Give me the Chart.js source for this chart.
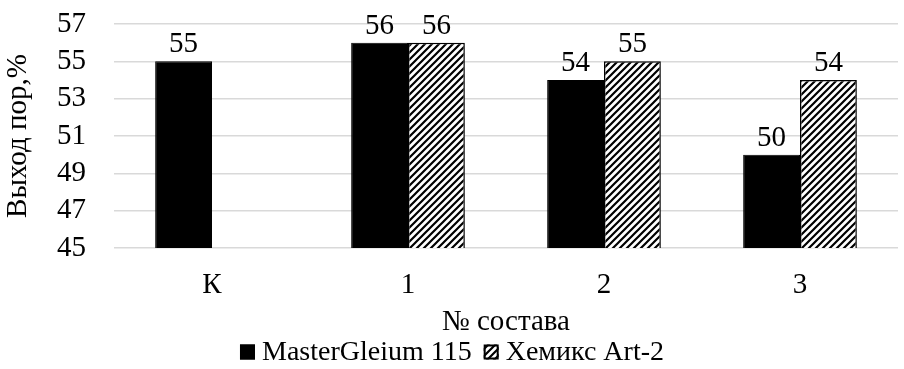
<!DOCTYPE html>
<html>
<head>
<meta charset="utf-8">
<script src="https://cdn.jsdelivr.net/npm/chart.js@4"></script>
<style>
  html, body { margin: 0; padding: 0; background: #fff; }
  #wrap { width: 904px; height: 369px; }
</style>
</head>
<body>
<div id="wrap"><canvas id="chart" width="904" height="369"></canvas></div>
<script>
// data
const categories = ['К', '1', '2', '3'];
const masterValues = [55, 56, 54, 50];
const hemiksValues = [null, 56, 55, 54];
const seriesNames = ['MasterGleium 115', 'Хемикс Art-2'];

const FONT = "'Liberation Serif', 'Times New Roman', serif";
Chart.defaults.font.family = FONT;
Chart.defaults.color = '#000';

// diagonal hatch for the second series
function makeHatch() {
    const c = document.createElement('canvas');
    c.width = 7;
    c.height = 7;
    const g = c.getContext('2d');
    g.fillStyle = '#fff';
    g.fillRect(0, 0, 7, 7);
    g.strokeStyle = '#000';
    g.lineWidth = 2.2;
    g.beginPath();
    g.moveTo(-1, 8); g.lineTo(8, -1);
    g.moveTo(-8, 8); g.lineTo(1, -1);
    g.moveTo(6, 8); g.lineTo(15, -1);
    g.stroke();
    return g.createPattern(c, 'repeat');
}

// value labels above the bars
const valueLabels = {
    id: 'valueLabels',
    afterDatasetsDraw(chart) {
        const ctx = chart.ctx;
        ctx.save();
        ctx.font = '29px ' + FONT;
        ctx.fillStyle = '#000';
        ctx.textAlign = 'center';
        ctx.textBaseline = 'bottom';
        chart.data.datasets.forEach((ds, i) => {
            chart.getDatasetMeta(i).data.forEach((bar, j) => {
                if (ds.data[j] == null) return;
                ctx.fillText(ds.data[j], bar.x, bar.y - 2);
            });
        });
        ctx.restore();
    }
};

// legend drawn by hand so the serif font and tight gaps match
const bottomLegend = {
    id: 'bottomLegend',
    afterDraw(chart) {
        const ctx = chart.ctx;
        const box = 15, gapText = 7, gapItem = 12;
        const cy = 352;
        ctx.save();
        ctx.font = '28px ' + FONT;
        ctx.textBaseline = 'middle';
        ctx.textAlign = 'left';
        const items = chart.data.datasets.map(ds => ({ ds, w: ctx.measureText(ds.label).width }));
        let total = 0;
        items.forEach((it, i) => { total += box + gapText + it.w + (i ? gapItem : 0); });
        let x = 452 - total / 2;
        items.forEach((it, i) => {
            if (i) x += gapItem;
            ctx.fillStyle = it.ds.backgroundColor;
            ctx.fillRect(x, cy - box / 2, box, box);
            ctx.strokeStyle = '#000';
            ctx.lineWidth = 2;
            ctx.strokeRect(x + 1, cy - box / 2 + 1, box - 2, box - 2);
            x += box + gapText;
            ctx.fillStyle = '#000';
            ctx.fillText(it.ds.label, x, cy + 1);
            x += it.w;
        });
        ctx.restore();
    }
};

const ctx = document.getElementById('chart').getContext('2d');
new Chart(ctx, {
    type: 'bar',
    data: {
        labels: categories,
        datasets: [{
            label: seriesNames[0],
            data: masterValues,
            backgroundColor: '#000',
            borderColor: '#000',
            borderWidth: 1
        }, {
            label: seriesNames[1],
            data: hemiksValues,
            backgroundColor: makeHatch(),
            borderColor: '#000',
            borderWidth: 1.5
        }]
    },
    options: {
        responsive: false,
        animation: false,
        layout: { padding: { left: 4, right: 6, top: 24, bottom: 39 } },
        datasets: {
            bar: { categoryPercentage: 0.58, barPercentage: 1 }
        },
        scales: {
            x: {
                grid: { display: false },
                border: { display: false },
                ticks: { color: '#000', font: { family: FONT, size: 29, lineHeight: 1 }, padding: 15 },
                title: {
                    display: true,
                    text: '№ состава',
                    color: '#000',
                    font: { family: FONT, size: 29, lineHeight: 1 },
                    padding: { top: 0, bottom: -7 }
                },
                afterFit(scale) {
                    scale.height = 82;
                    scale.paddingLeft = 0;
                    scale.paddingRight = 0;
                }
            },
            y: {
                min: 45,
                max: 57,
                ticks: {
                    stepSize: 2,
                    autoSkip: false,
                    color: '#000',
                    font: { family: FONT, size: 29, lineHeight: 1 },
                    padding: 28
                },
                grid: { color: '#d9d9d9', lineWidth: 1.5, drawTicks: false },
                border: { display: false },
                title: {
                    display: true,
                    text: 'Выход пор,%',
                    color: '#000',
                    font: { family: FONT, size: 29, lineHeight: 1 },
                    padding: { top: 0, bottom: 2 }
                },
                afterFit(scale) {
                    scale.width = 110;
                    scale.paddingTop = 0;
                    scale.paddingBottom = 0;
                }
            }
        },
        plugins: {
            legend: { display: false },
            tooltip: { enabled: false }
        }
    },
    plugins: [valueLabels, bottomLegend]
});
</script>
</body>
</html>
